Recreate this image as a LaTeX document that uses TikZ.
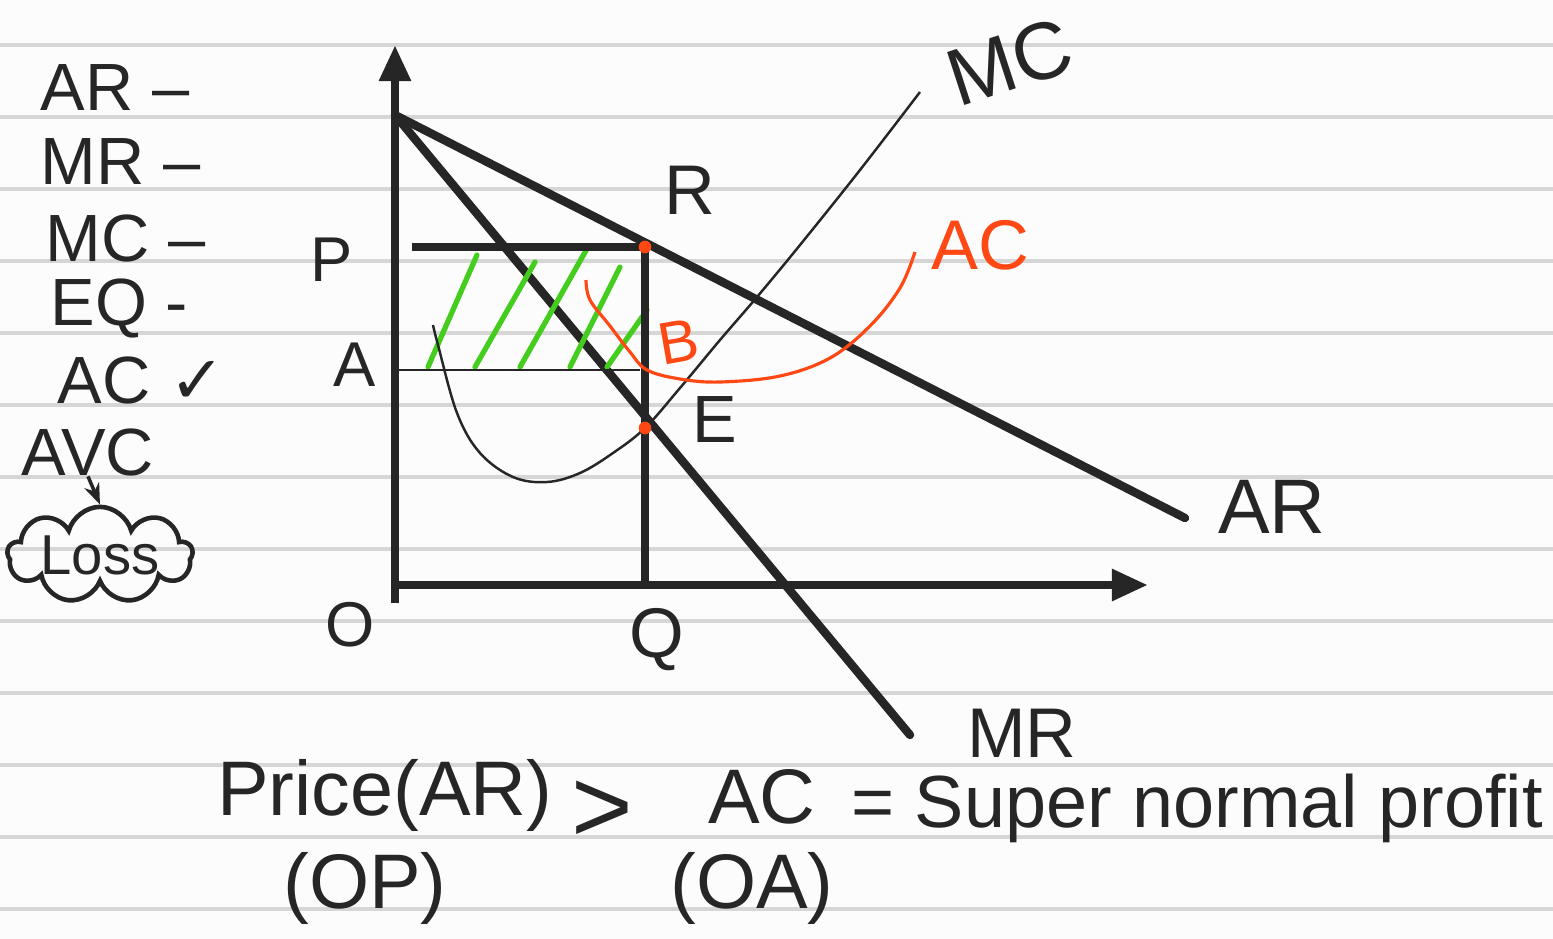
\documentclass[tikz,border=0pt]{standalone}
\usepackage{fontspec}
\setmainfont{Liberation Sans}
\newfontfamily\symfont{DejaVu Sans}
\usetikzlibrary{arrows.meta, shapes.symbols, positioning}
\definecolor{ink}{RGB}{38, 38, 38}
\definecolor{penred}{RGB}{255, 72, 20}
\definecolor{pengreen}{RGB}{68, 204, 30}
\definecolor{rulegray}{RGB}{214, 214, 214}
\definecolor{paper}{RGB}{252, 252, 252}

\tikzset{
  thickline/.style={ink, line width=2.4pt},
  thinline/.style={ink, line width=0.7pt},
  hand/.style={text=ink, inner sep=0pt, font=\fontsize{#1}{#1}\selectfont},
  hand/.default=20,
  hatchline/.style={pengreen, line width=1.5pt, line cap=round},
  reddot/.style={circle, fill=penred, inner sep=0pt, minimum size=3.6pt},
}

\begin{document}
\begin{tikzpicture}[x=0.01cm, y=-0.01cm]
  % Ruled notebook paper
  \fill[paper] (0,0) rectangle (1553,939);
  \useasboundingbox (0,0) rectangle (1553,939);
  \foreach \y in {45,117,...,909}
    \draw[rulegray, line width=0.9pt] (0,\y) -- (1553,\y);

  % Axes
  \coordinate (Ybase) at (395,603);
  \coordinate (Ytop) at (395,45);
  \coordinate (Xbase) at (398,585);
  \coordinate (Xend) at (1148,585);
  \draw[thickline, -{Triangle[length=0.36cm, width=0.3cm]}] (Ybase) -- (Ytop);
  \draw[thickline, -{Triangle[length=0.36cm, width=0.3cm]}] (Xbase) -- (Xend);

  % AR and MR lines
  \coordinate (K) at (395,115);
  \coordinate (ARend) at (1185,518);
  \coordinate (MRend) at (910,735);
  \draw[thickline, line cap=round] (K) -- (ARend);
  \draw[thickline, line cap=round] (K) -- (MRend);

  % Green hatching (profit area)
  \foreach \xa/\xb/\yb in {428/477/255, 475/535/262, 520/588/247, 570/620/267, 607/647/310}
    \draw[hatchline] (\xa,367) -- (\xb,\yb);

  % P line, Q line and A line
  \coordinate (Rpt) at (645,247);
  \coordinate (Ept) at (645,428);
  \coordinate (Pstart) at (412,247);
  \coordinate (Qbase) at (645,585);
  \coordinate (Aleft) at (399,370);
  \coordinate (Aright) at (640,370);
  \draw[thickline] (Pstart) -- (Rpt);
  \draw[thickline] (Rpt) -- (Qbase);
  \draw[thinline] (Aleft) -- (Aright);

  % MC curve
  \draw[thinline] plot[smooth, tension=0.6] coordinates {(433,325) (438,345) (457,413)
    (480,453) (513,477) (547,482) (580,473) (613,453) (645,428) (680,388) (720,340)
    (757,297) (800,245) (860,170) (920,92)};

  % AC curve
  \draw[penred, line width=0.9pt] plot[smooth, tension=0.6] coordinates {(586,280) (590,300)
    (610,326) (630,352) (647,370) (680,379) (720,382) (780,376) (830,358) (870,326)
    (900,288) (915,252)};

  % Points R and E
  \node[reddot] (R) at (Rpt) {};
  \node[reddot] (E) at (Ept) {};

  % Labels on the graph
  \node[hand=20] (lblR) at (690,190) {R};
  \node[hand=18] (lblP) at (332,260) {P};
  \node[hand=18] (lblA) at (355,365) {A};
  \node[hand=17, text=penred, rotate=10] (lblB) at (679,342) {B};
  \node[hand=19] (lblE) at (715,420) {E};
  \node[hand=18] (lblO) at (350,625) {O};
  \node[hand=20] (lblQ) at (657,640) {Q};
  \node[hand=23, rotate=18] (lblMC) at (1010,62) {MC};
  \node[hand=20, text=penred] (lblAC) at (980,245) {AC};
  \node[hand=22] (lblAR) at (1272,507) {AR};
  \node[hand=20] (lblMR) at (1022,733) {MR};

  % Checklist on the left
  \node[hand=19, anchor=west] (lstAR) at (40,88) {AR –};
  \node[hand=19, anchor=west] (lstMR) at (40,162) {MR –};
  \node[hand=19, anchor=west] (lstMC) at (45,238) {MC –};
  \node[hand=19, anchor=west] (lstEQ) at (50,308) {EQ -};
  \node[hand=19, anchor=west] (lstAC) at (57,380) {AC {\symfont ✓}};
  \node[hand=19] (lstAVC) at (88,452) {AVC};
  \node[cloud, draw=ink, line width=1.3pt, cloud puffs=9, cloud ignores aspect,
    minimum width=1.85cm, minimum height=0.95cm, hand=16] (Loss) at (100,555) {Loss};
  \draw[ink, line width=1pt, -{Stealth[length=6pt]}] (lstAVC.south) -- (Loss.north);

  % Conclusion
  \node[hand=22] (price) at (385,795) {Price(AR)};
  \node[hand=22] (op) at (365,888) {(OP)};
  \node[hand=30] (gt) at (602,812) {>};
  \node[hand=22] (ac) at (762,797) {AC};
  \node[hand=22] (oa) at (752,888) {(OA)};
  \node[hand=21] (snp) at (1197,808) {= Super normal profit};
\end{tikzpicture}
\end{document}
